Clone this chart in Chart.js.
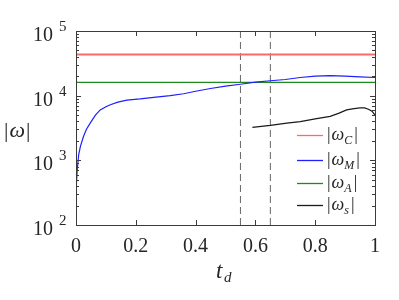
<!DOCTYPE html>
<html>
<head>
<meta charset="utf-8">
<script src="https://cdn.jsdelivr.net/npm/chart.js@4.4.0/dist/chart.umd.min.js"></script>
<style>
  html, body { margin: 0; padding: 0; background: #fff; }
  #wrap { width: 399px; height: 300px; }
</style>
</head>
<body>
<div id="wrap"><canvas id="chart"></canvas></div>
<script>
// values
const tM = [0, 0.004, 0.009, 0.015, 0.025, 0.035, 0.048, 0.065, 0.081, 0.1, 0.115, 0.14, 0.17, 0.215, 0.26, 0.315, 0.36, 0.4, 0.45, 0.5, 0.55, 0.6, 0.65, 0.7, 0.75, 0.8, 0.85, 0.9, 0.95, 1];
const omegaM = [324, 708, 1230, 1660, 2340, 3020, 3800, 5010, 6030, 6760, 7240, 7940, 8510, 8910, 9440, 10000, 10700, 11700, 12900, 14000, 15000, 16200, 17000, 17800, 19100, 20000, 20400, 20000, 19500, 19100];
const tS = [0.59, 0.65, 0.705, 0.75, 0.8, 0.85, 0.88, 0.905, 0.93, 0.95, 0.965, 0.978, 0.99, 1];
const omegaS = [3240, 3470, 3760, 3980, 4370, 4790, 5370, 6030, 6310, 6460, 6460, 6170, 5750, 5010];
const omegaC = 43300;
const omegaA = 16000;
const tRange = [0, 1];
const dashT = [0.55, 0.65];
const yRange = [100, 100000];
const xTicks = [0, 0.2, 0.4, 0.6, 0.8, 1];
const xTickLabels = ['0', '0.2', '0.4', '0.6', '0.8', '1'];
const yTicks = [100, 1000, 10000, 100000];
const yTickExp = ['2', '3', '4', '5'];
const legendSubs = ['C', 'M', 'A', 's'];

const fam = '"Liberation Serif"';
const textColor = '#262626';

function pts(xs, ys) {
  return xs.map((x, i) => ({ x: x, y: ys[i] }));
}

const datasets = [
  { label: 'C', data: tRange.map(t => ({ x: t, y: omegaC })), borderColor: '#ff6868', borderWidth: 1.8 },
  { label: 'M', data: pts(tM, omegaM), borderColor: '#1f1fff', borderWidth: 1.2 },
  { label: 'A', data: tRange.map(t => ({ x: t, y: omegaA })), borderColor: '#1c8a1c', borderWidth: 1.2 },
  { label: 's', data: pts(tS, omegaS), borderColor: '#1a1a1a', borderWidth: 1.2 }
];
dashT.forEach(t => {
  datasets.push({ label: '', data: yRange.map(v => ({ x: t, y: v })), borderColor: '#666', borderWidth: 1, borderDash: [7, 4] });
});
datasets.forEach(d => { d.pointRadius = 0; d.tension = 0; d.fill = false; });

function drawAbsOmega(ctx, x, base, size, sub, subSize) {
  ctx.textBaseline = 'alphabetic';
  ctx.textAlign = 'left';
  ctx.font = size + 'px ' + fam;
  ctx.fillText('|', x, base);
  x += ctx.measureText('|').width + 1;
  ctx.font = 'italic ' + size + 'px ' + fam;
  ctx.fillText('ω', x, base);
  x += ctx.measureText('ω').width;
  if (sub) {
    ctx.font = 'italic ' + subSize + 'px ' + fam;
    ctx.fillText(sub, x, base + size * 0.22);
    x += ctx.measureText(sub).width + 1;
  }
  ctx.font = size + 'px ' + fam;
  ctx.fillText('|', x + 1, base);
}

const overlay = {
  id: 'overlay',
  afterDraw(chart) {
    const { ctx, chartArea: a, scales } = chart;
    const x = scales.x, y = scales.y;
    ctx.save();
    ctx.strokeStyle = '#3a3a3a';
    ctx.lineWidth = 1;
    ctx.strokeRect(Math.round(a.left) + 0.5, Math.round(a.top) + 0.5, Math.round(a.right - a.left), Math.round(a.bottom - a.top));

    // inward ticks
    ctx.beginPath();
    xTicks.forEach(v => {
      const px = Math.round(x.getPixelForValue(v)) + 0.5;
      ctx.moveTo(px, a.bottom); ctx.lineTo(px, a.bottom - 5);
      ctx.moveTo(px, a.top); ctx.lineTo(px, a.top + 5);
    });
    yTicks.forEach(v => {
      const py = Math.round(y.getPixelForValue(v)) + 0.5;
      ctx.moveTo(a.left, py); ctx.lineTo(a.left + 5, py);
      ctx.moveTo(a.right, py); ctx.lineTo(a.right - 5, py);
    });
    for (let d = 0; d < yTicks.length - 1; d++) {
      for (let m = 2; m <= 9; m++) {
        const py = Math.round(y.getPixelForValue(m * yTicks[d])) + 0.5;
        ctx.moveTo(a.left, py); ctx.lineTo(a.left + 3, py);
        ctx.moveTo(a.right, py); ctx.lineTo(a.right - 3, py);
      }
    }
    ctx.stroke();

    // tick labels
    ctx.fillStyle = textColor;
    ctx.font = '20px ' + fam;
    ctx.textAlign = 'center';
    ctx.textBaseline = 'alphabetic';
    xTicks.forEach((v, i) => {
      ctx.fillText(xTickLabels[i], x.getPixelForValue(v), a.bottom + 27);
    });
    yTicks.forEach((v, i) => {
      const py = y.getPixelForValue(v);
      ctx.font = '20px ' + fam;
      ctx.textAlign = 'right';
      ctx.fillText('10', a.left - 23, py + 10);
      ctx.font = '15px ' + fam;
      ctx.textAlign = 'left';
      ctx.fillText(yTickExp[i], a.left - 17, py);
    });

    // axis titles
    ctx.font = 'italic 23px ' + fam;
    ctx.textAlign = 'left';
    ctx.fillText('t', 216, 278);
    ctx.font = 'italic 15px ' + fam;
    ctx.fillText('d', 224, 282);
    drawAbsOmega(ctx, 4, 137, 22, '', 0);

    // legend
    const rows = [135, 160, 183, 205];
    legendSubs.forEach((s, i) => {
      ctx.strokeStyle = datasets[i].borderColor;
      ctx.lineWidth = 1.3;
      ctx.beginPath();
      ctx.moveTo(297, rows[i] + 0.5);
      ctx.lineTo(323, rows[i] + 0.5);
      ctx.stroke();
      ctx.fillStyle = textColor;
      drawAbsOmega(ctx, 327, rows[i] + 5, 18, s, 12);
    });
    ctx.restore();
  }
};

new Chart(document.getElementById('chart'), {
  type: 'line',
  data: { datasets: datasets },
  options: {
    responsive: true,
    maintainAspectRatio: false,
    animation: false,
    layout: { padding: { left: 0, right: 24, top: 31, bottom: 0 } },
    plugins: { legend: { display: false }, tooltip: { enabled: false } },
    scales: {
      x: {
        type: 'linear', min: 0, max: 1,
        grid: { display: false }, border: { display: false },
        ticks: { display: false },
        afterFit(s) { s.height = 75; }
      },
      y: {
        type: 'logarithmic', min: yRange[0], max: yRange[1],
        grid: { display: false }, border: { display: false },
        ticks: { display: false },
        afterFit(s) { s.width = 76; }
      }
    }
  },
  plugins: [overlay]
});
</script>
</body>
</html>
